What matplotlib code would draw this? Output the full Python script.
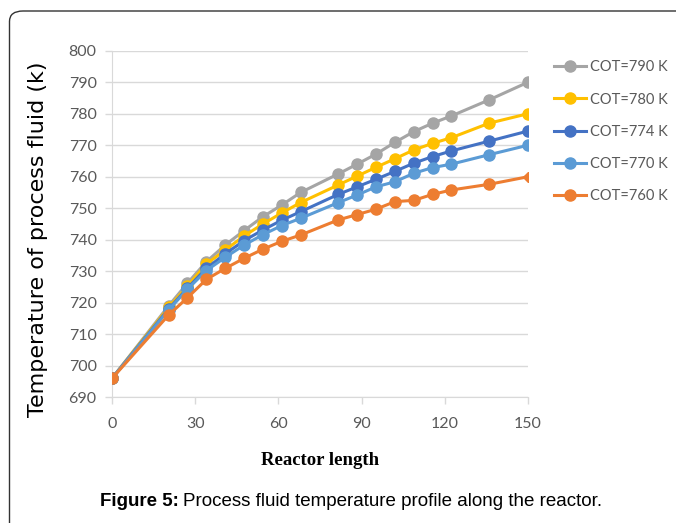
import matplotlib
matplotlib.use("Agg")
import matplotlib.pyplot as plt
from matplotlib.patches import FancyBboxPatch

## values
length = [0, 20.4, 27.2, 34, 40.8, 47.6, 54.4, 61.2, 68, 81.6, 88.4, 95.2, 102, 108.8, 115.6, 122.4, 136, 150]
cot_790 = [696, 719, 726.2, 733, 738.3, 742.9, 747.3, 751, 755, 760.9, 764, 767.2, 770.9, 774.3, 777, 779.3, 784.4, 790]
cot_780 = [696, 718.5, 725.3, 732.3, 736.7, 741.2, 745, 748.5, 751.8, 757.4, 760.2, 763, 765.7, 768.5, 770.6, 772.4, 777, 780]
cot_774 = [696, 718, 724.6, 730.9, 735.5, 739.7, 743.1, 746.2, 748.9, 754.4, 756.8, 759.2, 761.7, 764.3, 766.4, 768.2, 771.3, 774.5]
cot_770 = [696, 717.7, 724.3, 730.2, 734.4, 738.3, 741.6, 744.5, 746.8, 751.8, 754.2, 756.8, 758.4, 761.1, 762.9, 764, 767, 770]
cot_760 = [696, 716.1, 721.6, 727.4, 730.9, 734.1, 737, 739.5, 741.5, 746.3, 748, 749.7, 752.1, 752.5, 754.4, 755.8, 757.6, 760]

labels = ["COT=790 K", "COT=780 K", "COT=774 K", "COT=770 K", "COT=760 K"]
colors = ["#A5A5A5", "#FFC000", "#4472C4", "#5B9BD5", "#ED7D31"]
series = [cot_790, cot_780, cot_774, cot_770, cot_760]

narrow = ["Lato", "DejaVu Sans"]
grey_txt = "#595959"

fig = plt.figure(figsize=(6.76, 5.23), dpi=100)

# rounded frame around the figure (runs off right/bottom like the scan)
frame = FancyBboxPatch((9.5 / 676, -1.0), 2.0, 2 - 11 / 523,
                       boxstyle="round,pad=0,rounding_size=0.02",
                       transform=fig.transFigure, fill=False,
                       edgecolor="#333333", linewidth=1.0)
fig.patches.append(frame)

ax = fig.add_axes([112 / 676, 1 - 397.3 / 523, 416 / 676, 346.6 / 523])

for i in range(len(series)):
    if i == len(series) - 1:
        # last orange point is a small diamond
        ax.plot(length, series[i], color=colors[i], lw=2.2, marker="o", ms=8,
                markevery=list(range(len(length) - 1)), label=labels[i], zorder=3 + i)
        ax.plot(length[-1:], series[i][-1:], color=colors[i], marker="D", ms=5,
                ls="none", zorder=3 + i)
    else:
        ax.plot(length, series[i], color=colors[i], lw=2.2, marker="o", ms=8,
                label=labels[i], zorder=3 + i)

ax.set_xlim(0, 150)
ax.set_ylim(690, 800)
ax.set_xticks([0, 30, 60, 90, 120, 150])
ax.set_yticks(range(690, 801, 10))
ax.grid(axis="y", color="#D9D9D9", lw=1.0)
ax.set_axisbelow(True)
for s in ["top", "right"]:
    ax.spines[s].set_visible(False)
for s in ["left", "bottom"]:
    ax.spines[s].set_color("#D9D9D9")
ax.tick_params(colors="#D9D9D9", length=5, width=1, labelcolor=grey_txt, labelsize=11.5)
for lab in ax.get_xticklabels() + ax.get_yticklabels():
    lab.set_family(narrow)
ax.tick_params(axis="x", pad=9)
ax.tick_params(axis="y", pad=6)

ax.set_ylabel("Temperature of process fluid (k)", fontsize=16, family="DejaVu Sans",
              color="black")
ax.yaxis.set_label_coords(-0.154, 0.457)
ax.set_xlabel("Reactor length", fontsize=13.5, family="Liberation Serif",
              fontweight="bold", labelpad=15)

leg = ax.legend(loc="upper left", bbox_to_anchor=(1.03, 1.01), frameon=False,
                handlelength=2.2, handletextpad=0.3, labelspacing=1.25,
                prop={"family": narrow, "size": 10.5})
for t in leg.get_texts():
    t.set_color(grey_txt)

# caption: bold "Figure 5:" followed by regular text
cap1 = fig.text(100 / 676, 1 - 501 / 523, "Figure 5:", fontsize=13.5, fontweight="bold",
                family="Liberation Sans", va="center")
fig.canvas.draw()
bb = cap1.get_window_extent()
fig.text((bb.x1 + 4) / 676, 1 - 501 / 523,
         "Process fluid temperature profile along the reactor.",
         fontsize=13.5, family="Liberation Sans", va="center")

fig.savefig("out.png", dpi=100)
